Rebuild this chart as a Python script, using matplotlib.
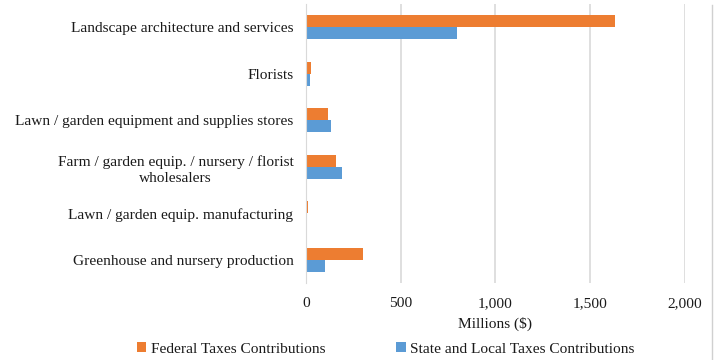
import numpy as np
import matplotlib.pyplot as plt
from matplotlib.lines import Line2D

# tax contributions by industry sector, millions of dollars
sectors = [
    "Landscape architecture and services",
    "Florists",
    "Lawn / garden equipment and supplies stores",
    "Farm / garden equip. / nursery / florist\nwholesalers",
    "Lawn / garden equip. manufacturing",
    "Greenhouse and nursery production",
]
federal = [1632, 28, 116, 161, 11, 303]
state_local = [796, 23, 130, 189, 5, 102]

c_fed = "#ED7D31"
c_state = "#5B9BD5"
fs = 11.1

plt.rcParams['font.family'] = ['Liberation Serif', 'DejaVu Serif']

fig = plt.figure(figsize=(7.2, 3.6), dpi=100)
ax = fig.add_axes([0.425, 0.214, 0.526, 0.775])

y = np.arange(len(sectors))[::-1]
h = 0.26
ax.barh(y + h / 2, federal, height=h, color=c_fed, label="Federal Taxes Contributions", zorder=3)
ax.barh(y - h / 2, state_local, height=h, color=c_state, label="State and Local Taxes Contributions", zorder=3)

ax.set_xlim(0, 2000)
ax.set_ylim(-0.5, len(sectors) - 0.5)
ax.set_xticks([0, 500, 1000, 1500, 2000])
ax.set_xticklabels(["0", "500", "1,000", "1,500", "2,000"])
ax.set_yticks(y)
ax.set_yticklabels(sectors, fontsize=fs, color="#1a1a1a", linespacing=1.3)
ax.tick_params(axis="x", labelsize=fs, colors="#1a1a1a", length=0, pad=10)
ax.tick_params(axis="y", length=0, pad=9)
for t in ax.get_yticklabels():
    t.set_multialignment("center")

ax.grid(axis="x", color="#d9d9d9", linewidth=1.2, zorder=0)
for s in ["top", "right", "bottom"]:
    ax.spines[s].set_visible(False)
ax.spines["left"].set_color("#d9d9d9")
ax.spines["left"].set_zorder(4)

ax.set_xlabel("Millions ($)", fontsize=fs, color="#1a1a1a", labelpad=5)

ax.legend(loc="center", bbox_to_anchor=(0.536, 0.031), bbox_transform=fig.transFigure,
          ncol=2, frameon=False, fontsize=fs, handlelength=0.6, handleheight=0.6,
          handletextpad=0.3, columnspacing=4.6, borderaxespad=0, borderpad=0,
          labelcolor="#1a1a1a")

# chart border on the right
fig.add_artist(Line2D([711.5 / 720, 711.5 / 720], [0, 355 / 360], transform=fig.transFigure,
                      color="#d0d0d0", linewidth=1))

fig.savefig("out.png", dpi=100)
